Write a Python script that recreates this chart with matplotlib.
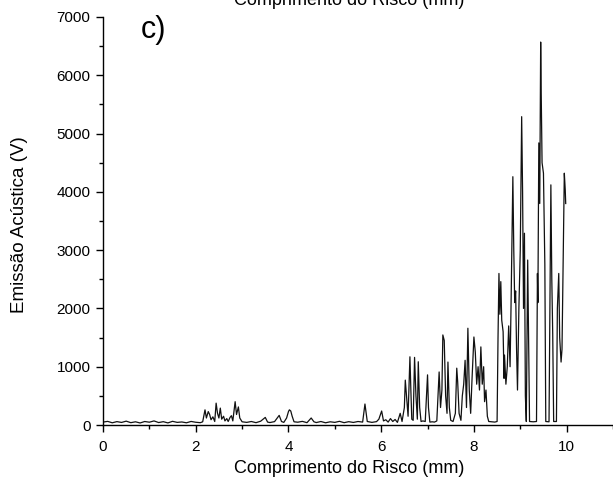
import matplotlib
matplotlib.use("Agg")
import matplotlib.pyplot as plt
from matplotlib.ticker import MultipleLocator

# Scratch length (mm) and acoustic emission (V)
x_mm = [0.0, 0.1, 0.2, 0.3, 0.4, 0.5, 0.6, 0.7, 0.8, 0.9, 1.0, 1.1, 1.2, 1.3, 1.4, 1.5, 1.6, 1.7, 1.8, 1.9, 2.0, 2.1,
        2.15, 2.2, 2.23, 2.27, 2.30, 2.33, 2.37, 2.41, 2.44, 2.47, 2.50, 2.53, 2.56, 2.60, 2.63, 2.67, 2.70, 2.74, 2.77,
        2.80, 2.85, 2.88, 2.92, 2.95, 3.0,
        3.1, 3.2, 3.3, 3.4, 3.5, 3.55, 3.6, 3.7, 3.8, 3.85, 3.9,
        3.96, 4.0, 4.02, 4.05, 4.08, 4.12,
        4.2, 4.3, 4.4, 4.49, 4.55, 4.6, 4.7, 4.8, 4.9, 5.0, 5.1, 5.2, 5.3, 5.4, 5.5, 5.6, 5.65, 5.7, 5.8, 5.9, 5.95,
        6.01, 6.05, 6.1, 6.15, 6.2, 6.25, 6.3, 6.35, 6.41, 6.45,
        6.50, 6.52, 6.55, 6.58, 6.62, 6.64, 6.66, 6.69, 6.72, 6.75, 6.78, 6.80, 6.83, 6.86, 6.90, 6.95, 7.00, 7.02,
        7.05, 7.10, 7.15, 7.20, 7.25, 7.28, 7.31, 7.33, 7.36, 7.39, 7.42, 7.44, 7.47, 7.50, 7.55, 7.60, 7.63, 7.65,
        7.68, 7.72, 7.75, 7.78, 7.81, 7.84, 7.87, 7.90, 7.93, 7.96, 8.00, 8.03, 8.06, 8.09, 8.12, 8.15, 8.18, 8.21,
        8.23, 8.26, 8.29, 8.32, 8.38, 8.45, 8.50,
        8.52, 8.54, 8.56, 8.58, 8.60, 8.63, 8.65, 8.66, 8.69, 8.72, 8.75, 8.78, 8.80, 8.84, 8.86, 8.88, 8.90, 8.92,
        8.94, 8.97, 9.00, 9.03, 9.05, 9.07, 9.09, 9.11, 9.13, 9.16, 9.18, 9.20, 9.28, 9.35,
        9.37, 9.38, 9.40, 9.42, 9.44, 9.45, 9.47, 9.50, 9.52, 9.53, 9.55, 9.62, 9.64, 9.66, 9.68, 9.70, 9.72, 9.78,
        9.80, 9.83, 9.85, 9.88, 9.90, 9.92, 9.95, 9.97, 9.98]

emission_v = [50, 62, 38, 58, 44, 66, 40, 55, 35, 60, 48, 70, 42, 57, 36, 63, 45, 52, 38, 61, 47, 40,
              55, 260, 120, 230, 180, 90, 140, 60, 375, 200, 120, 290, 100, 150, 70, 110, 60, 130, 160,
              70, 400, 180, 310, 120, 55,
              45, 60, 40, 65, 130, 50, 42, 58, 165, 60, 45,
              120, 230, 260, 240, 150, 55,
              48, 62, 40, 120, 55, 42, 60, 38, 55, 45, 63, 40, 57, 44, 60, 50, 360, 60, 45, 58, 100,
              240, 70, 90, 50, 110, 60, 95, 45, 200, 60,
              300, 770, 450, 150, 1170, 600, 100, 80, 1160, 500, 100, 1085, 300, 60, 70, 60, 860, 300,
              50, 55, 50, 70, 910, 300, 600, 1545, 1450, 500, 200, 1080, 300, 80, 60, 200, 975, 740,
              200, 80, 500, 700, 1110, 300, 1660, 600, 200, 800, 1510, 1250, 700, 1000, 600, 1340, 700, 1000,
              400, 600, 150, 60, 55, 50, 60,
              1500, 2600, 1900, 2460, 1800, 1600, 800, 1200, 700, 1000, 1700, 1000, 2000, 4260, 3000, 2100, 2300, 1300,
              600, 2000, 3000, 5290, 4000, 2000, 3290, 500, 60, 2830, 1500, 60, 55, 60,
              2600, 2100, 4840, 3800, 6570, 5800, 4500, 4320, 3200, 2750, 60, 55, 2000, 4120, 2500, 1550, 60, 60,
              2000, 2600, 1500, 1080, 1300, 2500, 4320, 4030, 3800]

x_major = [0, 2, 4, 6, 8, 10]
y_major = [0, 1000, 2000, 3000, 4000, 5000, 6000, 7000]

plt.rcParams['font.family'] = ['Liberation Sans', 'DejaVu Sans']

fig = plt.figure(figsize=(6.13, 4.90), dpi=100)
ax = fig.add_axes([103/613, 65/490, 510/613, 408/490])

ax.plot(x_mm, emission_v, color='#111111', linewidth=0.9)

ax.set_xlim(0, 11)
ax.set_ylim(0, 7000)
ax.set_xticks(x_major)
ax.set_yticks(y_major)
ax.xaxis.set_minor_locator(MultipleLocator(1))
ax.yaxis.set_minor_locator(MultipleLocator(500))
ax.tick_params(which='major', direction='out', length=5, width=1.0, labelsize=11, pad=4)
ax.tick_params(which='minor', direction='out', length=3, width=1.0)
ax.tick_params(axis='x', pad=6)

for s in ['top', 'right']:
    ax.spines[s].set_visible(False)
for s in ['left', 'bottom']:
    ax.spines[s].set_linewidth(1.0)

ax.set_xlabel('Comprimento do Risco (mm)', fontsize=13)
ax.xaxis.set_label_coords(0.482, -0.085)
ax.set_ylabel('Emissão Acústica (V)', fontsize=13.5)
ax.yaxis.set_label_coords(-0.147, 0.49)

ax.text(0.074, 0.968, 'c)', transform=ax.transAxes, fontsize=22, va='center', ha='left')

fig.text(349/613, 1 - 5/490, 'Comprimento do Risco (mm)', fontsize=13, ha='center', va='baseline')

fig.savefig('out.png', dpi=100)
